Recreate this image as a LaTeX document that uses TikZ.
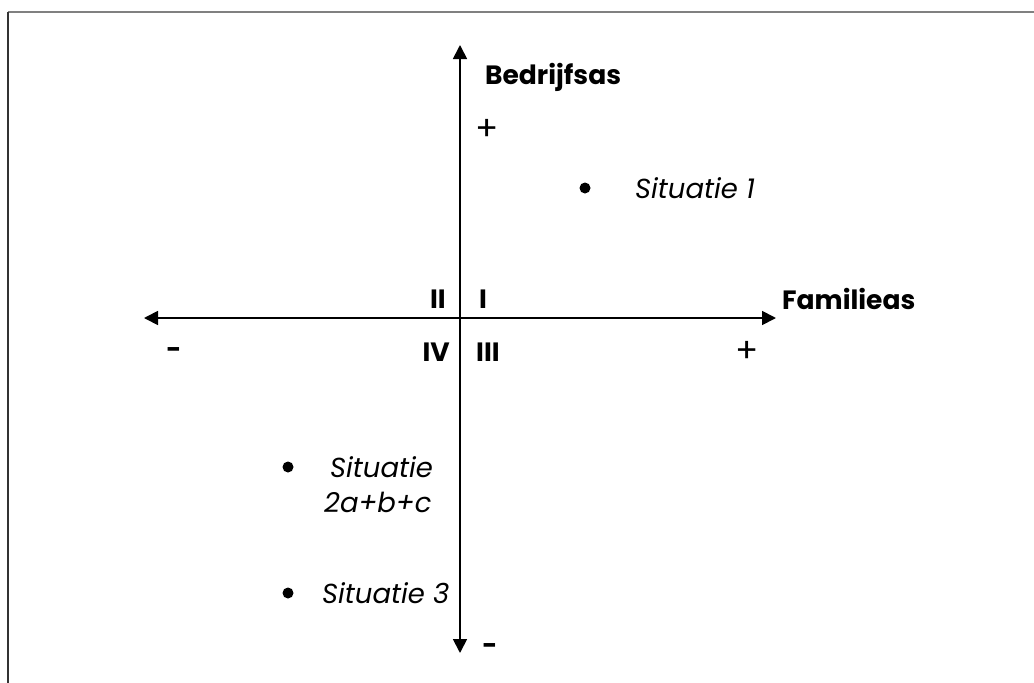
\documentclass[tikz,border=0pt]{standalone}
\usepackage{fontspec}
\setmainfont{Poppins}
\usetikzlibrary{arrows,arrows.meta}

\begin{document}
\begin{tikzpicture}[x=1pt,y=-1pt,
	font=\fontsize{26}{31}\selectfont,
	axis/.style={line width=1.8pt,{Triangle[length=14pt,width=14pt]}-{Triangle[length=14pt,width=14pt]}},
	sign_node/.style={inner sep=0pt,font=\fontsize{34}{40}\selectfont},
	minus_node/.style={inner sep=0pt,font=\fontsize{26}{31}\selectfont\bfseries},
	dot_node/.style={circle,fill=black,inner sep=0pt,minimum size=11pt},
	label_node/.style={inner sep=0pt,font=\fontsize{27.5}{33}\selectfont\itshape},
	axis_name/.style={inner sep=0pt,font=\fontsize{26.5}{31}\selectfont\bfseries}]

		\useasboundingbox (0,0) rectangle (1034,683);
		\draw[line width=1.4pt,gray] (8,12) -- (1034,12);
		\draw[line width=1.4pt,black!80] (8,12) -- (8,683);

		\coordinate (top) at (460,45);
		\coordinate (bottom) at (460,653);
		\coordinate (left) at (144,318);
		\coordinate (right) at (776,318);

		\draw[axis] (bottom) -- (top);
		\draw[axis] (left) -- (right);

		\node[axis_name,anchor=west] (bedrijf) at (485,77) {Bedrijfsas};
		\node[axis_name,anchor=west] (familie) at (782,299) {Familieas};

		\node[sign_node] (plus_y) at (487,130) {+};
		\node[minus_node] (min_y) at (490,649) {-};
		\node[minus_node] (min_x) at (174,353) {-};
		\node[sign_node] (plus_x) at (747,352) {+};

		\node[axis_name,anchor=east] (q2) at (446,299) {II};
		\node[axis_name,anchor=west] (q1) at (479,299) {I};
		\node[axis_name,anchor=east] (q4) at (450,352) {IV};
		\node[axis_name,anchor=west] (q3) at (476,352) {III};

		\node[dot_node] (d1) at (585,188) {};
		\node[label_node,anchor=west] (s1) at (635,188) {Situatie 1};
		\node[dot_node] (d2) at (288,467) {};
		\node[label_node,anchor=west] (s2) at (330,467) {Situatie};
		\node[label_node,anchor=west] (s2b) at (324,502) {2a+b+c};
		\node[dot_node] (d3) at (288,593) {};
		\node[label_node,anchor=west] (s3) at (322,593) {Situatie 3};
		\end{tikzpicture}
\end{document}
